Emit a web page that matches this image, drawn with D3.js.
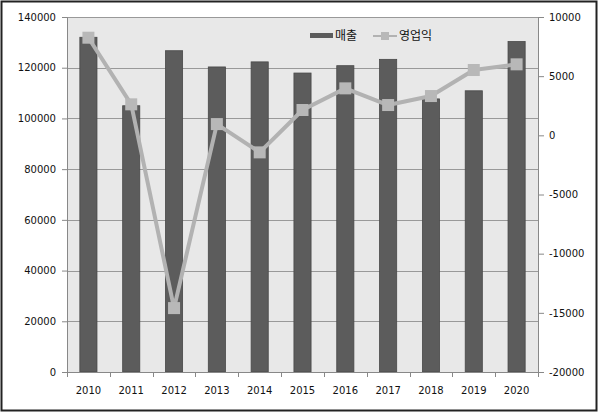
<!DOCTYPE html>
<html>
<head>
<meta charset="utf-8">
<script src="https://cdn.jsdelivr.net/npm/d3@7"></script>
<style>
  body { margin: 0; background: #fff; }
  text { font-family: "DejaVu Sans", sans-serif; font-size: 10px; fill: #111; }
  .legend text { font-family: "Noto Sans CJK KR", sans-serif; font-size: 12px; }
</style>
</head>
<body>
<div class="external"></div>
<script>
// data
const years = ['2010', '2011', '2012', '2013', '2014', '2015', '2016', '2017', '2018', '2019', '2020']
const sales = [132000, 105000, 126700, 120300, 122300, 117900, 120800, 123300, 107700, 110900, 130300]
const profit = [8250, 2620, -14600, 950, -1440, 2140, 3970, 2560, 3320, 5520, 6000]
const leftTicks = [0, 20000, 40000, 60000, 80000, 100000, 120000, 140000]
const rightTicks = [-20000, -15000, -10000, -5000, 0, 5000, 10000]

const width = 600, height = 414
const m = { top: 17, right: 62, bottom: 42, left: 67 }

const svg = d3.select('.external').append('svg')
  .attr('width', width)
  .attr('height', height)

// outer frame
svg.append('rect')
  .attr('x', 1.5).attr('y', 1.5)
  .attr('width', 595).attr('height', 409)
  .attr('fill', '#fff')
  .attr('stroke', '#222')
  .attr('stroke-width', 2)

const x = d3.scaleBand()
  .domain(years)
  .range([m.left, width - m.right])
  .paddingInner(0.6)
  .paddingOuter(0.3)

const xb = d3.scaleBand().domain(years).range([m.left, width - m.right])

const yL = d3.scaleLinear().domain([0, 140000]).range([height - m.bottom, m.top])
const yR = d3.scaleLinear().domain([-20000, 10000]).range([height - m.bottom, m.top])

// plot area
svg.append('rect')
  .attr('x', m.left).attr('y', m.top)
  .attr('width', width - m.left - m.right)
  .attr('height', height - m.top - m.bottom)
  .attr('fill', '#e8e8e8')

// gridlines
svg.append('g')
  .attr('stroke', '#999')
  .selectAll('line')
  .data(leftTicks.slice(1))
  .join('line')
  .attr('x1', m.left).attr('x2', width - m.right)
  .attr('y1', d => Math.round(yL(d)) + 0.5)
  .attr('y2', d => Math.round(yL(d)) + 0.5)

// bars
svg.append('g')
  .selectAll('rect')
  .data(sales)
  .join('rect')
  .attr('x', (d, i) => x(years[i]))
  .attr('width', x.bandwidth())
  .attr('y', d => yL(d))
  .attr('height', d => yL(0) - yL(d))
  .attr('fill', '#5c5c5c')
  .attr('stroke', '#484848')
  .attr('stroke-width', 0.8)

// line
const line = d3.line()
  .x((d, i) => xb(years[i]) + xb.bandwidth() / 2)
  .y(d => yR(d))

svg.append('path')
  .datum(profit)
  .attr('d', line)
  .attr('fill', 'none')
  .attr('stroke', '#b2b2b2')
  .attr('stroke-width', 4)
  .attr('stroke-linejoin', 'round')

svg.append('g')
  .selectAll('rect')
  .data(profit)
  .join('rect')
  .attr('x', (d, i) => xb(years[i]) + xb.bandwidth() / 2 - 6)
  .attr('y', d => yR(d) - 6)
  .attr('width', 12)
  .attr('height', 12)
  .attr('fill', '#b8b8b8')

// axes
const fmt = d => String(d)
const axisL = svg.append('g')
  .attr('transform', `translate(${m.left},0)`)
  .call(d3.axisLeft(yL).tickValues(leftTicks).tickFormat(fmt).tickSize(5).tickPadding(6))
const axisR = svg.append('g')
  .attr('transform', `translate(${width - m.right},0)`)
  .call(d3.axisRight(yR).tickValues(rightTicks).tickFormat(fmt).tickSize(6).tickPadding(5))
const axisB = svg.append('g')
  .attr('transform', `translate(0,${height - m.bottom})`)
  .call(d3.axisBottom(xb).tickSize(0).tickPadding(15))

// category boundary ticks
svg.append('g')
  .attr('stroke', '#888')
  .selectAll('line')
  .data(years.concat(['end']))
  .join('line')
  .attr('x1', (d, i) => Math.round(m.left + i * xb.step()) + 0.5)
  .attr('x2', (d, i) => Math.round(m.left + i * xb.step()) + 0.5)
  .attr('y1', height - m.bottom)
  .attr('y2', height - m.bottom + 5)

;[axisL, axisR, axisB].forEach(a => {
  a.select('.domain').attr('stroke', '#888')
  a.selectAll('.tick line').attr('stroke', '#888')
  a.selectAll('text').attr('font-family', null).attr('font-size', null)
})

// legend
const lg = svg.append('g').attr('class', 'legend')
lg.append('rect').attr('x', 310).attr('y', 33).attr('width', 23).attr('height', 5).attr('fill', '#5c5c5c')
lg.append('text').attr('x', 335).attr('y', 40).text('매출')
lg.append('line').attr('x1', 373).attr('x2', 397).attr('y1', 36).attr('y2', 36)
  .attr('stroke', '#b2b2b2').attr('stroke-width', 2)
lg.append('rect').attr('x', 381).attr('y', 32).attr('width', 8).attr('height', 8).attr('fill', '#b8b8b8')
lg.append('text').attr('x', 399).attr('y', 40).text('영업익')
</script>
</body>
</html>
